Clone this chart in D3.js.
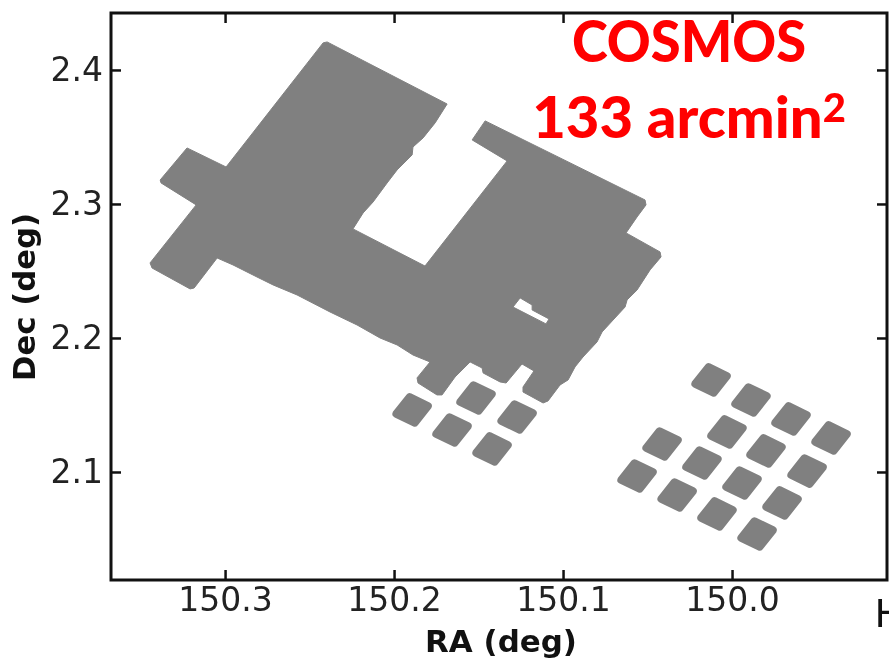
<!DOCTYPE html>
<html><head><meta charset="utf-8">
<script src="https://cdn.jsdelivr.net/npm/d3@7"></script>
<style>html,body{margin:0;padding:0;background:#fff;overflow:hidden}svg{display:block;filter:blur(0.5px)}</style>
</head><body><svg id="c" width="889" height="662"></svg>
<script>
// Survey footprint outline, RA and Dec in degrees
const outlineRA = [150.2396,150.1686,150.1757,150.1828,150.1888,150.1893,150.1982,150.2041,150.2124,150.2183,150.2243,150.1817,150.1331,150.1538,150.1461,150.0515,150.0509,150.0562,150.0627,150.0426,150.0420,150.0485,150.0562,150.0621,150.0633,150.0704,150.0769,150.0799,150.0882,150.0929,150.0970,150.1018,150.1089,150.1118,150.1237,150.1237,150.1172,150.1243,150.1337,150.1373,150.1473,150.1479,150.1550,150.1639,150.1716,150.1746,150.1858,150.1864,150.1787,150.1888,150.1982,150.2083,150.2219,150.2379,150.2574,150.2716,150.2811,150.2953,150.3047,150.3101,150.3183,150.3207,150.3432,150.3444,150.3171,150.3379,150.3384,150.3225,150.2994,150.2420];
const outlineDec = [2.4209,2.3746,2.3605,2.3493,2.3425,2.3366,2.3254,2.3157,2.3015,2.2933,2.2814,2.2537,2.3321,2.3478,2.3620,2.3030,2.2993,2.2903,2.2784,2.2642,2.2605,2.2508,2.2358,2.2284,2.2231,2.2134,2.2045,2.1970,2.1858,2.1784,2.1687,2.1649,2.1530,2.1515,2.1597,2.1634,2.1754,2.1806,2.1664,2.1672,2.1739,2.1776,2.1821,2.1709,2.1575,2.1575,2.1664,2.1702,2.1821,2.1873,2.1948,2.2000,2.2097,2.2194,2.2321,2.2396,2.2455,2.2545,2.2597,2.2508,2.2373,2.2366,2.2522,2.2560,2.2993,2.3157,2.3179,2.3418,2.3276,2.4202];
const holeRA = [150.1296,150.1254,150.1183,150.1183,150.1083,150.1101];
const holeDec = [2.2231,2.2299,2.2246,2.2209,2.2142,2.2105];
// Separate tiles: centres
const tileRA = [150.0124,149.9888,149.9651,149.9414,150.0030,149.9799,149.9556,150.0414,150.0178,149.9941,149.9704,150.0562,150.0325,150.0089,149.9852,150.1893,150.1515,150.1272,150.1657,150.1420];
const tileDec = [2.1687,2.1537,2.1396,2.1254,2.1299,2.1157,2.1007,2.1209,2.1067,2.0918,2.0769,2.0970,2.0828,2.0687,2.0537,2.1463,2.1552,2.1410,2.1313,2.1172];
// Tile half-edge vectors in degrees (RA, Dec)
const tileEdgeA = [-0.0054,-0.0033];
const tileEdgeB = [-0.0039,0.0062];
const xTicks = [150.3,150.2,150.1,150.0];
const yTicks = [2.1,2.2,2.3,2.4];
const xLabel = "RA (deg)", yLabel = "Dec (deg)";
const titleLines = ["COSMOS","133 arcmin"];
const areaExponent = "2";
const strayText = "H";

const L=111,R=887,T=13,B=580;
const svg=d3.select("#c");
const x=d3.scaleLinear().domain([150.3675,149.9083]).range([L,R]);
const y=d3.scaleLinear().domain([2.4425,2.0194]).range([T,B]);
const GREY="#808080", INK="#111";

const path=(ra,dec)=>"M"+ra.map((r,i)=>x(r)+","+y(dec[i])).join("L")+"Z";
svg.append("path").attr("d",path(outlineRA,outlineDec)+path(holeRA,holeDec))
  .attr("fill",GREY).attr("fill-rule","evenodd").attr("stroke",GREY).attr("stroke-width",1).attr("stroke-linejoin","round");
svg.append("g").selectAll("path").data(tileRA).join("path")
  .attr("d",(r,i)=>{
    const d=tileDec[i],a=tileEdgeA,b=tileEdgeB;
    return path([r+a[0]+b[0],r+a[0]-b[0],r-a[0]-b[0],r-a[0]+b[0]],[d+a[1]+b[1],d+a[1]-b[1],d-a[1]-b[1],d-a[1]+b[1]]);
  })
  .attr("fill",GREY).attr("stroke",GREY).attr("stroke-width",8).attr("stroke-linejoin","round");

function styleAxis(g,label){
  g.select(".domain").remove();
  g.selectAll(".tick line").attr("stroke",INK).attr("stroke-width",2.5);
  g.selectAll(".tick text").attr("fill",label?"#222":"none").attr("font-family","'DejaVu Sans'").attr("font-size",33);
}
const f=d3.format(".1f");
svg.append("g").attr("transform",`translate(0,${B})`)
  .call(d3.axisBottom(x).tickValues(xTicks).tickFormat(f).tickSizeOuter(0).tickSizeInner(-10).tickPadding(8)).call(g=>styleAxis(g,true));
svg.append("g").attr("transform",`translate(0,${T})`)
  .call(d3.axisTop(x).tickValues(xTicks).tickFormat("").tickSizeOuter(0).tickSizeInner(-10)).call(g=>styleAxis(g,false));
svg.append("g").attr("transform",`translate(${L},0)`)
  .call(d3.axisLeft(y).tickValues(yTicks).tickFormat(f).tickSizeOuter(0).tickSizeInner(-10).tickPadding(8)).call(g=>styleAxis(g,true));
svg.append("g").attr("transform",`translate(${R},0)`)
  .call(d3.axisRight(y).tickValues(yTicks).tickFormat("").tickSizeOuter(0).tickSizeInner(-10)).call(g=>styleAxis(g,false));
svg.append("rect").attr("x",L).attr("y",T).attr("width",R-L).attr("height",B-T)
  .attr("fill","none").attr("stroke",INK).attr("stroke-width",3);

svg.append("text").attr("x",501).attr("y",652).attr("text-anchor","middle")
  .attr("font-family","'DejaVu Sans'").attr("font-weight","bold").attr("font-size",31).attr("fill",INK)
  .attr("textLength",152).attr("lengthAdjust","spacingAndGlyphs").text(xLabel);
svg.append("text").attr("transform","translate(35,297) rotate(-90)").attr("text-anchor","middle")
  .attr("font-family","'DejaVu Sans'").attr("font-weight","bold").attr("font-size",31).attr("fill",INK)
  .attr("textLength",168).attr("lengthAdjust","spacingAndGlyphs").text(yLabel);

const tf="Lato";
svg.append("text").attr("x",689).attr("y",62).attr("text-anchor","middle")
  .attr("font-family",tf).attr("font-weight",900).attr("font-size",58).attr("fill","#ff0000")
  .attr("textLength",234).attr("lengthAdjust","spacingAndGlyphs").text(titleLines[0]);
const t2=svg.append("text").attr("x",689).attr("y",138).attr("text-anchor","middle")
  .attr("font-family",tf).attr("font-weight",900).attr("font-size",58).attr("fill","#ff0000");
t2.append("tspan").text(titleLines[1]);
t2.append("tspan").attr("dy",-16).attr("font-size",40).text(areaExponent);

svg.append("text").attr("x",875).attr("y",627).attr("font-family","'Liberation Sans'").attr("font-size",40).attr("fill","#111").text(strayText);
</script></body></html>
